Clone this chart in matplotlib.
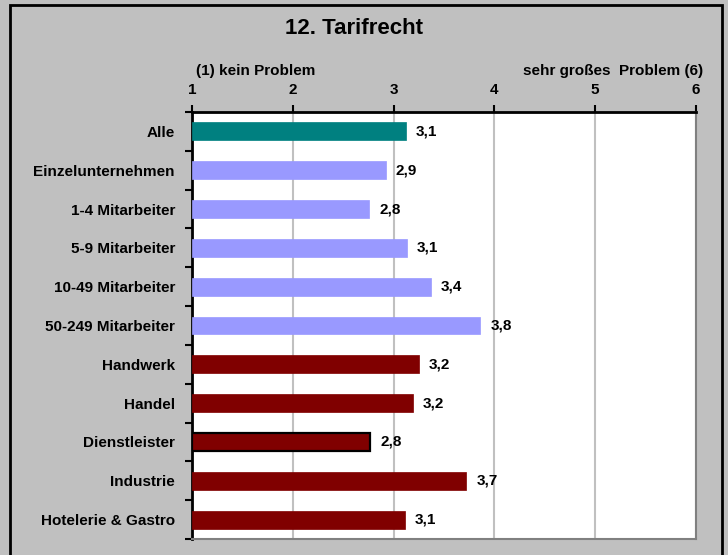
import matplotlib.pyplot as plt
from matplotlib.patches import Rectangle

# data
categories = ['Alle', 'Einzelunternehmen', '1-4 Mitarbeiter', '5-9 Mitarbeiter',
              '10-49 Mitarbeiter', '50-249 Mitarbeiter', 'Handwerk', 'Handel',
              'Dienstleister', 'Industrie', 'Hotelerie & Gastro']
values = [3.12, 2.92, 2.76, 3.13, 3.37, 3.86, 3.25, 3.19, 2.77, 3.72, 3.11]
value_labels = ['3,1', '2,9', '2,8', '3,1', '3,4', '3,8', '3,2', '3,2', '2,8', '3,7', '3,1']
groups = ['total', 'size', 'size', 'size', 'size', 'size',
          'sector', 'sector', 'sector', 'sector', 'sector']
highlight = 'Dienstleister'

group_colors = {'total': '#008080', 'size': '#9999ff', 'sector': '#800000'}

plt.rcParams['font.family'] = ['Liberation Sans', 'DejaVu Sans']
plt.rcParams['font.weight'] = 'bold'
fs = 11

fig = plt.figure(figsize=(7.28, 5.55), dpi=100)
fig.patch.set_facecolor('#c0c0c0')
# outer frame
fig.patches.append(Rectangle((10 / 728, -0.02), 712 / 728, 1 - 5 / 555 + 0.02,
                             transform=fig.transFigure, fill=False,
                             edgecolor='black', linewidth=2))

ax = fig.add_axes([192 / 728, 1 - 539 / 555, (696 - 192) / 728, (539 - 112) / 555])
ax.set_facecolor('white')

ypos = list(range(len(categories)))
for i, (cat, v, g) in enumerate(zip(categories, values, groups)):
    ec = 'black' if cat == highlight else group_colors[g]
    lw = 1.6 if cat == highlight else 0.5
    ax.barh(i, v - 1, left=1, height=0.46, color=group_colors[g],
            edgecolor=ec, linewidth=lw, zorder=3)
    ax.text(v + 0.1, i, value_labels[i], ha='left', va='center',
            fontsize=fs, fontweight='bold', zorder=4)

ax.set_xlim(1, 6)
ax.set_ylim(len(categories) - 0.5, -0.5)

ax.xaxis.tick_top()
ax.set_xticks([1, 2, 3, 4, 5, 6])
ax.set_xticklabels(['1', '2', '3', '4', '5', '6'], fontsize=fs, fontweight='bold')
ax.tick_params(axis='x', direction='out', length=5, width=1.5, pad=5.5)

ax.set_yticks(ypos)
ax.set_yticklabels(categories, fontsize=fs, fontweight='bold')
ax.tick_params(axis='y', which='major', length=0, pad=12.3)
ax.set_yticks([i + 0.5 for i in range(-1, len(categories))], minor=True)
ax.tick_params(axis='y', which='minor', direction='out', length=5, width=1.5)

ax.grid(axis='x', color='#c0c0c0', linewidth=1.5, zorder=0)
ax.set_axisbelow(True)

ax.spines['top'].set_linewidth(2)
ax.spines['left'].set_linewidth(2)
ax.spines['right'].set_color('#808080')
ax.spines['right'].set_linewidth(1.5)
ax.spines['bottom'].set_color('#808080')
ax.spines['bottom'].set_linewidth(1.5)

ax.text(0.008, 1.097, '(1) kein Problem', transform=ax.transAxes,
        ha='left', va='center', fontsize=fs, fontweight='bold')
ax.text(1.014, 1.097, 'sehr großes  Problem (6)', transform=ax.transAxes,
        ha='right', va='center', fontsize=fs, fontweight='bold')

fig.text(354 / 728, 1 - 28 / 555, '12. Tarifrecht', ha='center', va='center',
         fontsize=16, fontweight='bold')

fig.savefig('out.png', dpi=100, facecolor=fig.get_facecolor())
